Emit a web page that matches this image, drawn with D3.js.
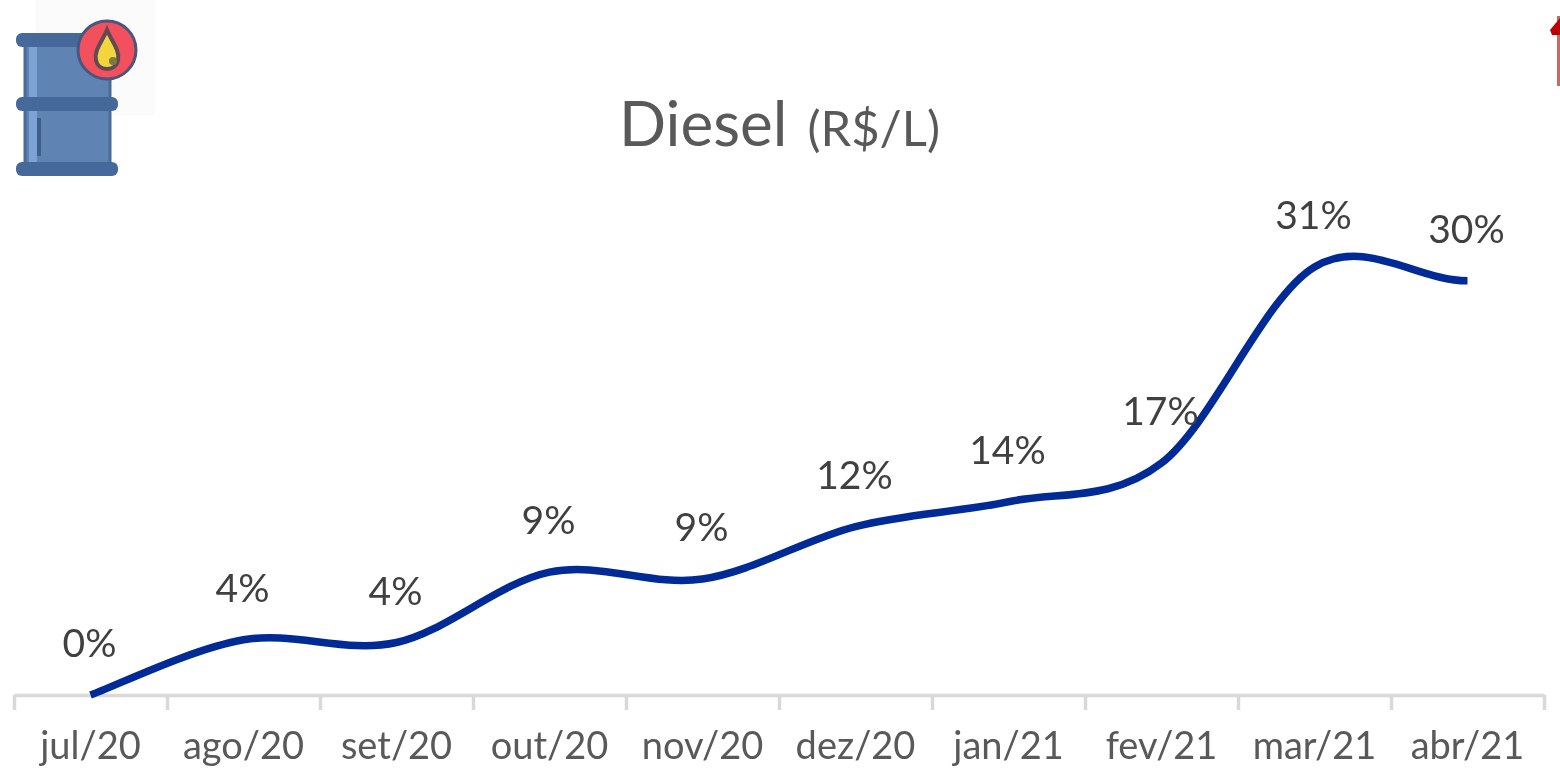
<!DOCTYPE html>
<html>
<head>
<meta charset="utf-8">
<title>Diesel</title>
<script src="https://cdn.jsdelivr.net/npm/d3@7"></script>
<style>
	html, body { margin: 0; padding: 0; background: #fff; overflow: hidden; }
	svg { display: block; filter: blur(0.6px); }
	text { font-family: Lato, "Open Sans", sans-serif; }
</style>
</head>
<body>
<div id="chart"></div>
<script>
const months = ["jul/20", "ago/20", "set/20", "out/20", "nov/20", "dez/20", "jan/21", "fev/21", "mar/21", "abr/21"];
const variation = [0, 4, 3.8, 8.9, 8.4, 12.2, 14, 16.8, 31, 30];
const labels = ["0%", "4%", "4%", "9%", "9%", "12%", "14%", "17%", "31%", "30%"];

const svgWidth = 1560;
const svgHeight = 770;
const axisY = 695;

var svg = d3.select("#chart").append("svg")
	.attr("width", svgWidth)
	.attr("height", svgHeight);

var xScale = d3.scaleBand()
	.domain(months)
	.range([14, 1544]);

// same span as xScale, only used for the ticks between the months
var edgeScale = d3.scaleLinear()
	.domain([0, months.length])
	.range(xScale.range());

var yScale = d3.scaleLinear()
	.domain([0, 31])
	.range([axisY, 267]);

var xCenter = function(i) { return xScale(months[i]) + xScale.bandwidth() / 2 };

// Axes
var edgeAxis = svg.append("g")
	.attr("transform", "translate(0," + axisY + ")")
	.call(d3.axisBottom(edgeScale).tickValues(d3.range(months.length + 1)).tickFormat("").tickSize(15).tickSizeOuter(0));
edgeAxis.selectAll("line").attr("stroke", "#d9d9d9").attr("stroke-width", 3.5);
edgeAxis.select(".domain").attr("stroke", "#d9d9d9").attr("stroke-width", 3.5);

var monthAxis = svg.append("g")
	.attr("transform", "translate(0," + axisY + ")")
	.call(d3.axisBottom(xScale).tickSize(0).tickPadding(37));
monthAxis.select(".domain").remove();
monthAxis.selectAll("text")
	.attr("fill", "#595959")
	.style("font-family", "Lato, sans-serif")
	.style("font-size", "38px");

// Excel style smoothing. Same as a cardinal curve with tension 0, but the last piece comes in flat.
function excelCurve(context) {
	var pts = [];
	return {
		lineStart: function() { pts = []; },
		point: function(x, y) { pts.push([x, y]); },
		lineEnd: function() {
			pts.forEach(function(p, i) {
				if (i === 0) { context.moveTo(p[0], p[1]); return; }
				var before = pts[Math.max(i - 2, 0)], a = pts[i - 1], after = pts[Math.min(i + 1, pts.length - 1)];
				var c1x = a[0] + (p[0] - before[0]) / 6;
				var c1y = a[1] + (p[1] - before[1]) / 6;
				var c2x = p[0] - (after[0] - a[0]) / 6;
				var c2y = p[1] - (after[1] - a[1]) / 6;
				if (i === pts.length - 1) {
					c2x = p[0] - (p[0] - a[0]) / 3;
					c2y = p[1];
				}
				context.bezierCurveTo(c1x, c1y, c2x, c2y, p[0], p[1]);
			});
		}
	};
}

var line = d3.line()
	.x(function(d, i) { return xCenter(i) })
	.y(function(d) { return yScale(d) })
	.curve(excelCurve);

svg.append("path")
	.datum(variation)
	.attr("fill", "none")
	.attr("stroke", "#002b97")
	.attr("stroke-width", 7.5)
	.attr("d", line);

svg.selectAll(".point-label")
	.data(variation)
	.enter().append("text")
		.attr("class", "point-label")
		.text(function(d, i) { return labels[i] })
		.attr("x", function(d, i) { return xCenter(i) - 1 })
		.attr("y", function(d) { return yScale(d) - 38 })
		.attr("text-anchor", "middle")
		.attr("fill", "#404040")
		.style("font-size", "39px");

// Title
var title = svg.append("text")
	.attr("x", 619)
	.attr("y", 146)
	.attr("fill", "#595959");
title.append("tspan").text("Diesel").style("font-size", "62px");
title.append("tspan").text("(R$/L)").attr("dx", 20).style("font-size", "49px");

// Barrel icon
var icon = svg.append("g");
icon.append("rect").attr("x", 35).attr("y", 0).attr("width", 120).attr("height", 115).attr("fill", "#fbfbfb");
icon.append("rect").attr("x", 25).attr("y", 40).attr("width", 85).attr("height", 125).attr("fill", "#5f84b3").attr("stroke", "#4a6a98").attr("stroke-width", 3);
icon.append("rect").attr("x", 29).attr("y", 47).attr("width", 8).attr("height", 115).attr("fill", "#7ba3d3");
icon.append("rect").attr("x", 37).attr("y", 118).attr("width", 4).attr("height", 38).attr("fill", "#3f5e8e");
[33, 97, 162].forEach(function(y) {
	icon.append("rect").attr("x", 16).attr("y", y).attr("width", 102).attr("height", 14).attr("rx", 6).attr("fill", "#46699b");
});
icon.append("circle").attr("cx", 107).attr("cy", 50).attr("r", 29).attr("fill", "#f2505c").attr("stroke", "#4a5580").attr("stroke-width", 3);
icon.append("path")
	.attr("d", "M107,30 C112,42 120,50 118,60 C116,72 98,72 96,60 C94,50 102,42 107,30Z")
	.attr("fill", "#f2d53c")
	.attr("stroke", "#5f4a55")
	.attr("stroke-width", 4);
icon.append("circle").attr("cx", 113).attr("cy", 61).attr("r", 4).attr("fill", "#7d7a40");

// Cut off red arrow at the right edge
svg.append("rect").attr("x", 1557).attr("y", 16).attr("width", 3).attr("height", 70).attr("fill", "#cd6666");
svg.append("path").attr("d", "M1560,18 L1550,30 L1552,35 L1560,35Z").attr("fill", "#c00000");
</script>
</body>
</html>
